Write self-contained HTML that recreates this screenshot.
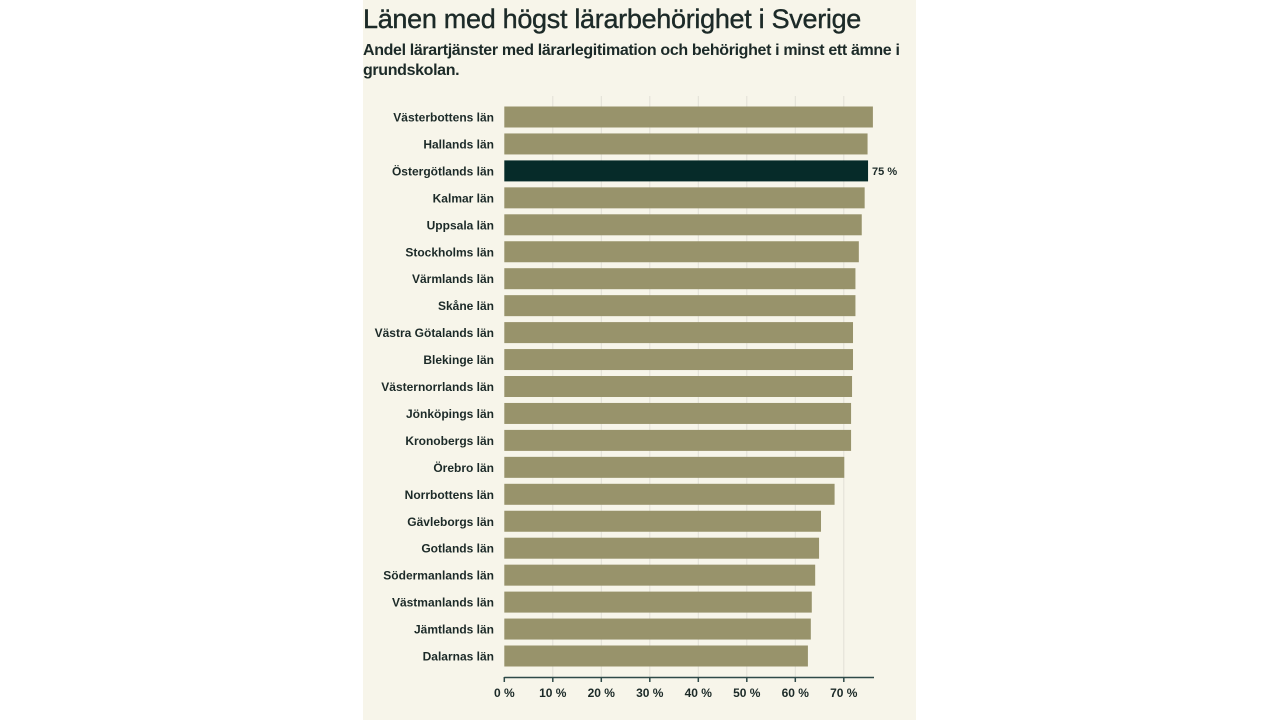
<!DOCTYPE html>
<html><head><meta charset="utf-8"><style>
body{margin:0;width:1280px;height:720px;background:#fff;overflow:hidden;font-family:"Liberation Sans",sans-serif}
#panel{position:absolute;left:363px;top:0;width:553px;height:720px;background:#f7f5ea}
h1{position:absolute;left:363px;top:4px;margin:0;font-size:27px;font-weight:normal;color:#1c2a28;letter-spacing:-0.3px;-webkit-text-stroke:0.4px #1c2a28}
h2{position:absolute;left:363px;top:41px;width:550px;margin:0;font-size:16px;font-weight:bold;color:#1c2a28;line-height:20px;letter-spacing:-0.35px}
svg{position:absolute;left:0;top:0}
</style></head><body>
<div id="panel"></div>
<h1>Länen med högst lärarbehörighet i Sverige</h1>
<h2>Andel lärartjänster med lärarlegitimation och behörighet i minst ett ämne i grundskolan.</h2>
<svg id="chart" width="1280" height="720"></svg>
<script>
const categories=["Västerbottens län","Hallands län","Östergötlands län","Kalmar län","Uppsala län","Stockholms län","Värmlands län","Skåne län","Västra Götalands län","Blekinge län","Västernorrlands län","Jönköpings län","Kronobergs län","Örebro län","Norrbottens län","Gävleborgs län","Gotlands län","Södermanlands län","Västmanlands län","Jämtlands län","Dalarnas län"];
const values=[76.0,74.9,75.0,74.3,73.7,73.1,72.4,72.4,71.9,71.9,71.7,71.5,71.5,70.1,68.1,65.3,64.9,64.1,63.4,63.2,62.6];
const highlight="Östergötlands län";
const ticks=[0,10,20,30,40,50,60,70];
const tickLabels=["0 %","10 %","20 %","30 %","40 %","50 %","60 %","70 %"];
const NS="http://www.w3.org/2000/svg";
const svg=document.getElementById('chart');
const x=v=>504.3+v*4.85;
const y=i=>117+i*26.95;
function mk(t,a,p){const e=document.createElementNS(NS,t);for(const k in a)e.setAttribute(k,a[k]);(p||svg).appendChild(e);return e;}
ticks.forEach((t,i)=>{
 if(t>0){const g=mk('line',{x1:x(t),x2:x(t),y1:96,y2:677,stroke:'#e2e0d6','stroke-width':1});
 
 }
 const tk=mk('line',{x1:x(t),x2:x(t),y1:677,y2:682,stroke:'#2f4a48','stroke-width':1.5});
 
 
 const tl=mk('text',{x:x(t),y:697,'text-anchor':'middle','font-size':12,'font-weight':'bold',fill:'#1c2a28'});
 tl.textContent=tickLabels[i];
 
 
});
categories.forEach((c,i)=>{
 const hi=c===highlight;
 const r=mk('rect',{x:x(0),y:y(i)-10.5,width:x(values[i])-x(0),height:21,fill:hi?'#062b29':'#98936b'});
 
 
 const l=mk('text',{x:494,y:y(i)+4.5,'text-anchor':'end','font-size':12,'font-weight':'bold',fill:'#1c2a28'});
 l.textContent=c;
 
 
 if(hi){const v=mk('text',{x:x(values[i])+4,y:y(i)+4,'font-size':11,'font-weight':'bold',fill:'#1c2a28'});
 v.textContent=Math.round(values[i])+" %";
 
 }
});
const ax=mk('line',{x1:x(0),x2:874,y1:677.5,y2:677.5,stroke:'#2f4a48','stroke-width':1.5});


</script>
</body></html>
